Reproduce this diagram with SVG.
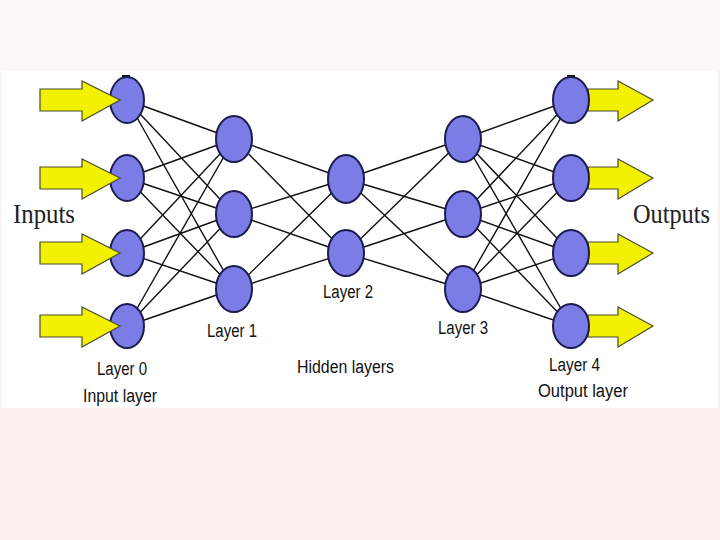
<svg xmlns="http://www.w3.org/2000/svg" width="720" height="540" viewBox="0 0 720 540">
<style>
.node{fill:#7c7ce6;stroke:#1c1c50;stroke-width:2}
.edge{stroke:#111;stroke-width:1.4;fill:none}
.arrow{fill:#f2f200;stroke:#4a4a30;stroke-width:1.2;stroke-linejoin:miter}
.lbl{font-family:"Liberation Sans",Arial,sans-serif;font-size:18px;fill:#111}
.big{font-family:"Liberation Serif","Times New Roman",serif;font-size:27px;fill:#222}
.mark{fill:#111}
</style>
<rect x="0" y="0" width="720" height="540" fill="#faefed"/>
<rect x="0" y="0" width="720" height="71" fill="#fdf7f6"/>
<rect x="1" y="71" width="717" height="337" fill="#ffffff"/>

<g id="connectors">
<path class="edge" d="M127,100L234,139M127,100L234,214M127,100L234,289
M127,178L234,139M127,178L234,214M127,178L234,289
M127,253L234,139M127,253L234,214M127,253L234,289
M127,326L234,139M127,326L234,214M127,326L234,289"/>
<path class="edge" d="M234,139L346,179M234,139L346,253M234,214L346,179M234,214L346,253M234,289L346,179M234,289L346,253"/>
<path class="edge" d="M346,179L463,139M346,179L463,214M346,179L463,289M346,253L463,139M346,253L463,214M346,253L463,289"/>
<path class="edge" d="M463,139L571,100M463,139L571,178M463,139L571,253M463,139L571,326
M463,214L571,100M463,214L571,178M463,214L571,253M463,214L571,326
M463,289L571,100M463,289L571,178M463,289L571,253M463,289L571,326"/>
</g>

<g id="output-arrows">
<polygon class="arrow" points="588,89 618,89 618,81 653,100 618,121 618,111 588,111"/>
<polygon class="arrow" points="588,167 618,167 618,159 653,178 618,199 618,189 588,189"/>
<polygon class="arrow" points="588,242 618,242 618,234 653,253 618,274 618,264 588,264"/>
<polygon class="arrow" points="588,315 618,315 618,307 653,326 618,347 618,337 588,337"/>
</g>

<g id="layer0">
<rect class="mark" x="122" y="75" width="8" height="3"/>
<ellipse id="n0a" class="node" cx="127" cy="100" rx="17" ry="23"/>
<ellipse id="n0b" class="node" cx="127" cy="178" rx="17" ry="23"/>
<ellipse id="n0c" class="node" cx="127" cy="253" rx="17" ry="23"/>
<ellipse id="n0d" class="node" cx="127" cy="326" rx="17" ry="22"/>
</g>
<g id="layer1">
<ellipse id="n1a" class="node" cx="234" cy="139" rx="18" ry="23"/>
<ellipse id="n1b" class="node" cx="234" cy="214" rx="18" ry="23"/>
<ellipse id="n1c" class="node" cx="234" cy="289" rx="18" ry="23"/>
</g>
<g id="layer2">
<ellipse id="n2a" class="node" cx="346" cy="179" rx="18" ry="24"/>
<ellipse id="n2b" class="node" cx="346" cy="253" rx="18" ry="23"/>
</g>
<g id="layer3">
<ellipse id="n3a" class="node" cx="463" cy="139" rx="18" ry="23"/>
<ellipse id="n3b" class="node" cx="463" cy="214" rx="18" ry="23"/>
<ellipse id="n3c" class="node" cx="463" cy="289" rx="18" ry="23"/>
</g>
<g id="layer4">
<rect class="mark" x="567" y="75" width="8" height="3"/>
<ellipse id="n4a" class="node" cx="571" cy="100" rx="18" ry="23"/>
<ellipse id="n4b" class="node" cx="571" cy="178" rx="18" ry="23"/>
<ellipse id="n4c" class="node" cx="571" cy="253" rx="18" ry="23"/>
<ellipse id="n4d" class="node" cx="571" cy="326" rx="18" ry="22"/>
</g>

<g id="input-arrows">
<polygon class="arrow" points="40,89 82,89 82,81 120,100 82,121 82,111 40,111"/>
<polygon class="arrow" points="40,167 82,167 82,159 120,178 82,199 82,189 40,189"/>
<polygon class="arrow" points="40,242 82,242 82,234 120,253 82,274 82,264 40,264"/>
<polygon class="arrow" points="40,315 82,315 82,307 120,326 82,347 82,337 40,337"/>
</g>

<g id="labels">
<text class="big" x="13" y="223" textLength="62" lengthAdjust="spacingAndGlyphs">Inputs</text>
<text class="big" x="633" y="223" textLength="77" lengthAdjust="spacingAndGlyphs">Outputs</text>
<text class="lbl" x="97" y="375" textLength="50" lengthAdjust="spacingAndGlyphs">Layer 0</text>
<text class="lbl" x="83" y="402" textLength="74" lengthAdjust="spacingAndGlyphs">Input layer</text>
<text class="lbl" x="207" y="337" textLength="50" lengthAdjust="spacingAndGlyphs">Layer 1</text>
<text class="lbl" x="323" y="298" textLength="50" lengthAdjust="spacingAndGlyphs">Layer 2</text>
<text class="lbl" x="297" y="373" textLength="97" lengthAdjust="spacingAndGlyphs">Hidden layers</text>
<text class="lbl" x="438" y="334" textLength="50" lengthAdjust="spacingAndGlyphs">Layer 3</text>
<text class="lbl" x="549" y="371" textLength="51" lengthAdjust="spacingAndGlyphs">Layer 4</text>
<text class="lbl" x="538" y="397" textLength="90" lengthAdjust="spacingAndGlyphs">Output layer</text>
</g>
</svg>
